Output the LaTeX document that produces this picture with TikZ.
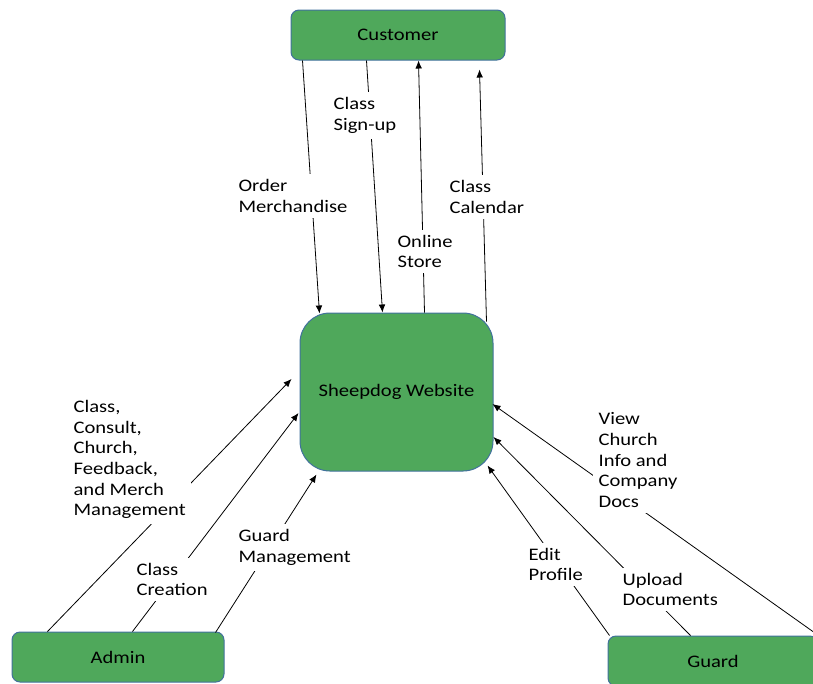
\documentclass[tikz,border=0pt]{standalone}
\usepackage{fontspec}
\setmainfont{Carlito}[FakeStretch=1.17]
\usetikzlibrary{arrows.meta,calc,positioning}
\definecolor{boxgreen}{RGB}{79,168,91}
\definecolor{boxline}{RGB}{65,113,156}
\tikzset{
	entity/.style={draw=boxline,fill=boxgreen,line width=0.75pt,rounded corners=6pt,minimum width=160.5pt,minimum height=37.5pt,anchor=center},
	flow/.style={line width=0.6pt,-{Latex[length=6pt,width=5pt]}},
	flowlbl/.style={fill=white,align=left,anchor=west,inner sep=4pt},
}
\begin{document}
\begin{tikzpicture}[x=0.75pt,y=-0.75pt,font=\fontsize{13.2}{15.5}\selectfont]
	\useasboundingbox (0,0) rectangle (813,683);
	\node (cust) at (398,35) [entity] {Customer};
	\node (web) at (396.5,392) [entity,rounded corners=22.5pt,minimum width=144.75pt,minimum height=118.5pt] {Sheepdog Website};
	\node (admin) at (118,657) [entity,minimum width=159pt] {Admin};
	\node (guard) at (713,661) [entity,minimum width=157.5pt] {Guard};
	
	\draw[flow] ($(cust.south west)+(12,0)$) -- ($(web.north west)+(20,1)$);
	\draw[flow] ($(cust.south west)+(76,0)$) -- ($(web.north west)+(83,0)$);
	\draw[flow] ($(web.north west)+(125,0)$) -- ($(cust.south west)+(128,0)$);
	\draw[flow] ($(web.north east)+(-7,9)$) -- ($(cust.south west)+(189,9)$);
	
	\draw[flow] ($(admin.north west)+(36,0)$) -- ($(web.west)+(-8,-13)$);
	\draw[flow] ($(admin.north west)+(121,0)$) -- ($(web.west)+(-1,21)$);
	\draw[flow] ($(admin.north east)+(-9,1)$) -- ($(web.south west)+(17,3)$);
	
	\draw[flow] ($(guard.north west)+(2,0)$) -- ($(web.south east)+(-6,-6)$);
	\draw[flow] ($(guard.north west)+(83,0)$) -- ($(web.east)+(0,45)$);
	\draw[flow] (guard.north east) -- ($(web.east)+(-1,12)$);
	
	\node (lblOrder) at (233,196) [flowlbl] {Order\\Merchandise};
	\node (lblSignup) at (328,115.5) [flowlbl] {Class\\Sign-up};
	\node (lblStore) at (392,251.5) [flowlbl] {Online\\Store};
	\node (lblCalendar) at (444,197) [flowlbl] {Class\\Calendar};
	\node (lblMgmt) at (68,459.5) [flowlbl] {Class,\\Consult,\\Church,\\Feedback,\\and Merch\\Management};
	\node (lblCreation) at (131,579.5) [flowlbl] {Class\\Creation};
	\node (lblGuardMgmt) at (233,547.5) [flowlbl] {Guard\\Management};
	\node (lblEdit) at (523,564.5) [flowlbl] {Edit\\Profile};
	\node (lblUpload) at (617,589.5) [flowlbl] {Upload\\Documents};
	\node (lblView) at (593,460) [flowlbl] {View\\Church\\Info and\\Company\\Docs};
\end{tikzpicture}
\end{document}
